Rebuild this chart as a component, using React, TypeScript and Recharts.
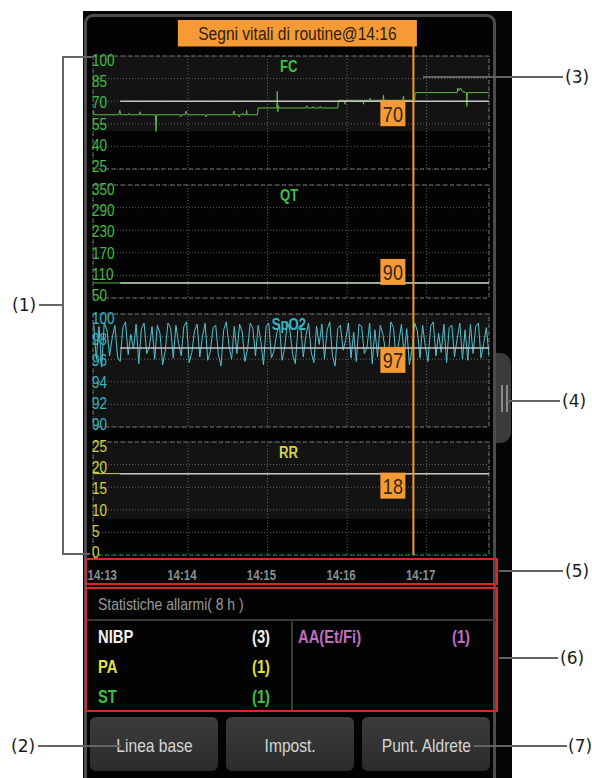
import React from "react";
import {
  CartesianGrid,
  Line,
  LineChart,
  ReferenceArea,
  ReferenceDot,
  XAxis,
  YAxis,
} from "recharts";

// no condensed font installed: squeeze Liberation Sans horizontally
const SANS = '"Liberation Sans", Arial, sans-serif';
const SQ = 0.82;
const NOTE_FONT = '"DejaVu Sans", "Noto Sans", sans-serif';

// time is in seconds after 14:13:00
const T_MIN = -11.5;
const T_MAX = 287;
const CURSOR_T = 230;
const BASE_START = 9;
const cursorTitle = "Segni vitali di routine@14:16";

const gridTimes = [60, 120, 180, 240];
const timeTicks = [0, 60, 120, 180, 240];
const timeLabels = ["14:13", "14:14", "14:15", "14:16", "14:17"];

const fcTicks = [100, 85, 70, 55, 40, 25];
const qtTicks = [350, 290, 230, 170, 110, 50];
const spo2Ticks = [100, 98, 96, 94, 92, 90];
const rrTicks = [25, 20, 15, 10, 5, 0];

// [time, bpm]
const fcTrend: [number, number][] = [
  [-11.5, 64], [-10.5, 61], [8, 61], [8.7, 64], [9.4, 61], [15, 61], [15.5, 62],
  [16, 61], [23.5, 61], [24, 63], [24.5, 61], [35.5, 61], [36, 50], [36.5, 61],
  [54, 61], [54.5, 59.5], [55, 61], [58, 61], [58.5, 63.5], [59.5, 61.5], [60, 61],
  [73, 61], [73.6, 59.5], [74.2, 61], [94, 61], [94.7, 63.5], [95.3, 61], [98.3, 61],
  [98.7, 59.5], [99.2, 61], [101, 61], [101.5, 62], [102, 61], [104, 61], [104.3, 64],
  [104.7, 61], [112.5, 61], [113, 65.5], [127, 65.5], [127.4, 76.5], [127.8, 63],
  [128.2, 67], [128.6, 65.5], [149, 65.5], [149.6, 67], [150.2, 65.5], [154, 65.5],
  [154.5, 66.5], [155, 65.5], [159.3, 65.5], [159.8, 66.5], [160.3, 65.5], [173, 65.5],
  [173.5, 70.6], [178, 70.6], [178.5, 68], [179, 70.6], [192, 70.6], [192.4, 68],
  [192.8, 70.6], [197, 70.6], [197.4, 72], [197.8, 70.6], [207, 70.6], [207.4, 74],
  [207.8, 70.6], [222, 70.6], [222.5, 73.5], [223, 70.6], [231, 70.6], [231.3, 75.7],
  [263, 75.7], [263.5, 78.8], [264.5, 77], [265.5, 78.8], [267, 76.5], [270, 75.7],
  [270.3, 66.6], [270.7, 75.7], [287, 75.7],
];

// SpO2 samples every 2 s from -11 s
const SPO2_START = -11;
const SPO2_STEP = 2;
const spo2Values = [
  99.1, 96.0, 98.9, 95.3, 99.2, 98.6, 96.3, 97.9, 99.0, 96.2, 95.8, 98.8, 99.3, 96.4, 98.2, 96.9, 99.1, 95.6, 98.7, 99.2,
  96.5, 97.1, 98.9, 96.0, 99.0, 98.3, 95.5, 96.8, 99.2, 98.8, 96.1, 99.0, 97.4, 96.3, 98.9, 99.3, 95.7, 96.6, 98.5, 99.1,
  96.2, 98.0, 99.2, 95.9, 96.7, 98.8, 99.0, 96.4, 95.4, 98.6, 99.3, 97.2, 96.0, 98.9, 96.5, 99.1, 98.4, 95.8, 96.9, 99.2,
  98.7, 96.3, 99.0, 97.6, 95.5, 98.9, 99.2, 96.1, 96.8, 98.3, 99.1, 95.9, 97.0, 99.3, 98.5, 96.4, 95.6, 98.8, 99.0, 96.2,
  98.1, 99.2, 96.6, 95.7, 98.9, 97.3, 99.1, 96.0, 98.6, 99.3, 96.3, 95.4, 98.7, 99.0, 96.8, 97.7, 99.2, 96.1, 98.4, 95.8,
  99.1, 98.9, 96.5, 97.0, 99.2, 95.6, 98.6, 96.2, 99.0, 98.2, 96.7, 95.9, 99.3, 98.8, 96.0, 97.5, 99.1, 96.4, 98.7, 95.5,
  96.9, 99.2, 98.5, 96.1, 99.0, 97.1, 95.8, 98.9, 99.3, 96.3, 98.3, 96.6, 99.1, 95.7, 98.8, 99.0, 96.2, 97.8, 99.2, 96.0,
  98.6, 95.9, 99.1, 96.5, 98.9, 99.2, 96.1, 97.4, 98.8, 96.3,
];

const qtTrend: [number, number][] = [[-11.5, 90], [287, 90]];
const rrTrend: [number, number][] = [[-11.5, 18], [287, 18]];

const readouts = { fc: 70, qt: 90, spo2: 97, rr: 18 };

const alarmLeft = [
  { name: "NIBP", count: 3, color: "#f2f2f2" },
  { name: "PA", count: 1, color: "#e2df3a" },
  { name: "ST", count: 1, color: "#3fbf3f" },
];
const alarmRight = [{ name: "AA(Et/Fi)", count: 1, color: "#c06cc0" }];
const buttons = ["Linea base", "Impost.", "Punt. Aldrete"];

type Pt = { t: number; v: number };
const toPts = (arr: [number, number][]): Pt[] => arr.map(([t, v]) => ({ t, v }));
const spo2Trend: Pt[] = spo2Values.map((v, i) => ({ t: SPO2_START + i * SPO2_STEP, v }));
const cursorLine: Pt[] = [
  { t: CURSOR_T, v: 0 },
  { t: CURSOR_T, v: 1 },
];

const CHART_LEFT = 84;
const CHART_W = 410;
const MARGIN_L = 9;
const MARGIN_R = 5;
const PLOT_H = 113;
const PAD = 6;

// narrow svg text
function SText(props: {
  x: number;
  y: number;
  anchor?: string;
  size: number;
  fill: string;
  bold?: boolean;
  children: React.ReactNode;
}) {
  return (
    <g transform={`translate(${props.x},${props.y}) scale(${SQ},1)`}>
      <text
        x={0}
        y={0}
        dy="0.36em"
        textAnchor={props.anchor || "start"}
        fill={props.fill}
        fontSize={props.size}
        fontWeight={props.bold ? 700 : 400}
        fontFamily={SANS}
      >
        {props.children}
      </text>
    </g>
  );
}

// narrow html text
function Cond({ children, origin }: { children: React.ReactNode; origin: string }) {
  return (
    <span
      style={{
        display: "inline-block",
        whiteSpace: "nowrap",
        transform: `scaleX(${SQ})`,
        transformOrigin: origin,
      }}
    >
      {children}
    </span>
  );
}

const YTick = (props: any) => {
  const { x, y, payload, index, color } = props;
  return (
    <SText x={x - 1} y={y + 4 - index * 1.4} size={16.5} fill={color}>
      {payload.value}
    </SText>
  );
};

const TimeTick = (props: any) => {
  const { x, y, index } = props;
  return (
    <SText x={x - 6} y={y + 20} anchor="middle" size={14} fill="#8c8c8c" bold>
      {timeLabels[index]}
    </SText>
  );
};

const ValueBox = ({ cx, cy, value, above }: any) => {
  const top = above ? cy - 24 : cy - 1;
  return (
    <g>
      <rect x={cx - 33} y={top} width={25} height={26} fill="#f59a34" />
      <SText x={cx - 20.5} y={top + 13.5} anchor="middle" size={22} fill="#33281a">
        {value}
      </SText>
    </g>
  );
};

const TitleBox = ({ cx, cy }: any) => {
  const right = cx + 3.5;
  const w = 239;
  return (
    <g>
      <rect x={right - w} y={cy} width={w} height={26.5} fill="#f59a34" />
      <SText x={right - w / 2} y={cy + 13.5} anchor="middle" size={19} fill="#2b2117">
        {cursorTitle}
      </SText>
    </g>
  );
};

type PanelProps = {
  top: number;
  data: Pt[];
  domain: [number, number];
  ticks: number[];
  color: string;
  lineColor: string;
  title: string;
  readout: number;
  shade?: [number, number];
  above?: boolean;
  timeAxis?: boolean;
};

function Panel(p: PanelProps) {
  const axisH = 32;
  const base: Pt[] = [
    { t: BASE_START, v: p.readout },
    { t: T_MAX, v: p.readout },
  ];
  return (
    <>
      <LineChart
        width={CHART_W}
        height={PAD + PLOT_H + (p.timeAxis ? axisH : PAD)}
        margin={{ top: PAD, right: MARGIN_R, left: MARGIN_L - 1, bottom: p.timeAxis ? 0 : PAD }}
        style={{ position: "absolute", left: CHART_LEFT, top: p.top - PAD }}
      >
        {p.timeAxis && (
          <XAxis
            xAxisId="time"
            type="number"
            dataKey="t"
            domain={[T_MIN, T_MAX]}
            ticks={timeTicks}
            interval={0}
            allowDataOverflow
            height={axisH}
            axisLine={false}
            tickLine={false}
            tickSize={0}
            tickMargin={0}
            tick={<TimeTick />}
          />
        )}
        <XAxis
          type="number"
          dataKey="t"
          domain={[T_MIN, T_MAX]}
          ticks={gridTimes}
          allowDataOverflow
          height={0}
          hide
        />
        <YAxis
          type="number"
          domain={p.domain}
          ticks={p.ticks}
          interval={0}
          width={1}
          allowDataOverflow
          axisLine={false}
          tickLine={false}
          tickSize={0}
          tickMargin={0}
          tick={<YTick color={p.color} />}
        />
        <CartesianGrid stroke="#5c5c5c" strokeDasharray="1 2" />
        {p.shade && (
          <ReferenceArea
            y1={p.shade[0]}
            y2={p.shade[1]}
            fill="#ffffff"
            fillOpacity={0.065}
            stroke="none"
          />
        )}
        <ReferenceArea
          x1={T_MIN}
          x2={T_MAX}
          y1={p.domain[0]}
          y2={p.domain[1]}
          fill="none"
          stroke="#6e6e6e"
          strokeDasharray="4 3"
        />
        <Line
          data={p.data}
          dataKey="v"
          type="linear"
          stroke={p.lineColor}
          strokeWidth={1}
          dot={false}
          isAnimationActive={false}
        />
        <Line
          data={base}
          dataKey="v"
          type="linear"
          stroke="#c4c4c4"
          strokeWidth={1.5}
          dot={false}
          isAnimationActive={false}
        />
        <ReferenceDot
          x={CURSOR_T}
          y={p.readout}
          shape={(s: any) => (
            <ValueBox cx={s.cx} cy={s.cy} value={p.readout} above={p.above} />
          )}
        />
      </LineChart>
      <div
        style={{
          position: "absolute",
          left: 249,
          width: 80,
          top: p.top + 1,
          height: 20,
          lineHeight: "20px",
          textAlign: "center",
          color: p.color,
          fontFamily: SANS,
          fontWeight: 700,
          fontSize: 16,
        }}
      >
        <Cond origin="center">{p.title}</Cond>
      </div>
    </>
  );
}

const abs = (s: React.CSSProperties): React.CSSProperties => ({ position: "absolute", ...s });

function Note({ label, x, y }: { label: string; x: number; y: number }) {
  return (
    <div
      style={abs({
        left: x,
        top: y - 11,
        height: 22,
        lineHeight: "22px",
        fontFamily: NOTE_FONT,
        fontSize: 17,
        color: "#1b1b1b",
      })}
    >
      {label}
    </div>
  );
}

const rowText = (color: string): React.CSSProperties => ({
  lineHeight: "22px",
  color,
  fontFamily: SANS,
  fontWeight: 700,
  fontSize: 18,
});

export default function App() {
  return (
    <div
      style={abs({
        left: 0,
        top: 0,
        width: 592,
        height: 778,
        overflow: "hidden",
        background: "#ffffff",
      })}
    >
      <div style={abs({ left: 83, top: 11, width: 429, height: 767, background: "#050505" })} />
      <div
        style={abs({
          left: 84,
          top: 14,
          width: 412,
          height: 800,
          boxSizing: "border-box",
          border: "3px solid #4c4c4c",
          borderRadius: 9,
          background: "#030303",
        })}
      />
      <div
        style={abs({
          left: 496,
          top: 353,
          width: 15,
          height: 90,
          background: "#3b3b3b",
          borderRadius: "0 11px 11px 0",
        })}
      />
      <div style={abs({ left: 501, top: 385, width: 2, height: 27, background: "#8a8a8a" })} />
      <div style={abs({ left: 506, top: 385, width: 2, height: 27, background: "#8a8a8a" })} />

      <div
        style={abs({
          left: 85,
          top: 558,
          width: 413,
          height: 27,
          boxSizing: "border-box",
          border: "2px solid #e3222b",
        })}
      />

      <Panel
        top={56}
        data={toPts(fcTrend)}
        domain={[25, 100]}
        ticks={fcTicks}
        color="#3fbf3f"
        lineColor="#62b84a"
        title="FC"
        readout={readouts.fc}
        shade={[50, 100]}
      />
      <Panel
        top={185}
        data={toPts(qtTrend)}
        domain={[50, 350]}
        ticks={qtTicks}
        color="#3fbf3f"
        lineColor="#3fbf3f"
        title="QT"
        readout={readouts.qt}
        above
      />
      <Panel
        top={314}
        data={spo2Trend}
        domain={[90, 100]}
        ticks={spo2Ticks}
        color="#35b5c4"
        lineColor="#4fc3d2"
        title="SpO2"
        readout={readouts.spo2}
        shade={[90, 100]}
      />
      <Panel
        top={442}
        data={toPts(rrTrend)}
        domain={[0, 25]}
        ticks={rrTicks}
        color="#d6d43a"
        lineColor="#d6d43a"
        title="RR"
        readout={readouts.rr}
        shade={[8, 25]}
        timeAxis
      />

      {/* time cursor over all panels */}
      <LineChart
        width={CHART_W}
        height={535}
        margin={{ top: 0, right: MARGIN_R, left: MARGIN_L, bottom: 0 }}
        style={{ position: "absolute", left: CHART_LEFT, top: 20, pointerEvents: "none" }}
      >
        <XAxis type="number" dataKey="t" domain={[T_MIN, T_MAX]} allowDataOverflow height={0} hide />
        <YAxis type="number" domain={[0, 1]} width={0} hide />
        <Line
          data={cursorLine}
          dataKey="v"
          type="linear"
          stroke="#f5972c"
          strokeWidth={2}
          dot={false}
          isAnimationActive={false}
        />
        <ReferenceDot x={CURSOR_T} y={1} shape={(s: any) => <TitleBox cx={s.cx} cy={s.cy} />} />
      </LineChart>

      {/* alarm statistics */}
      <div
        style={abs({
          left: 85,
          top: 587,
          width: 413,
          height: 125,
          boxSizing: "border-box",
          border: "2px solid #e3222b",
        })}
      />
      <div
        style={abs({
          left: 98,
          top: 594,
          height: 22,
          lineHeight: "22px",
          color: "#9a9a9a",
          fontFamily: SANS,
          fontSize: 17,
        })}
      >
        <Cond origin="left">Statistiche allarmi( 8 h )</Cond>
      </div>
      <div style={abs({ left: 87, top: 619, width: 409, height: 2, background: "#3a3a3a" })} />
      <div style={abs({ left: 291, top: 621, width: 2, height: 89, background: "#3a3a3a" })} />
      {alarmLeft.map((a, i) => (
        <React.Fragment key={a.name}>
          <div style={abs({ left: 98, top: 626 + i * 30, ...rowText(a.color) })}>
            <Cond origin="left">{a.name}</Cond>
          </div>
          <div
            style={abs({ left: 200, width: 70, textAlign: "right", top: 626 + i * 30, ...rowText(a.color) })}
          >
            <Cond origin="right">({a.count})</Cond>
          </div>
        </React.Fragment>
      ))}
      {alarmRight.map((a, i) => (
        <React.Fragment key={a.name}>
          <div style={abs({ left: 298, top: 626 + i * 30, ...rowText(a.color) })}>
            <Cond origin="left">{a.name}</Cond>
          </div>
          <div
            style={abs({ left: 400, width: 70, textAlign: "right", top: 626 + i * 30, ...rowText(a.color) })}
          >
            <Cond origin="right">({a.count})</Cond>
          </div>
        </React.Fragment>
      ))}

      {buttons.map((b, i) => (
        <div
          key={b}
          style={abs({
            left: 90 + i * 136,
            top: 717,
            width: 128,
            height: 54,
            borderRadius: 6,
            background: "linear-gradient(#3c3c3c, #2b2b2b)",
            color: "#d6d6d6",
            fontFamily: SANS,
            fontSize: 19,
            lineHeight: "58px",
            textAlign: "center",
          })}
        >
          <Cond origin="center">{b}</Cond>
        </div>
      ))}

      {/* callouts */}
      <svg width={592} height={778} style={abs({ left: 0, top: 0 })}>
        <g stroke="#646464" strokeWidth={2} fill="none">
          <polyline points="92,57 63,57 63,554 90,554" />
          <line x1={39} y1={305} x2={63} y2={305} />
          <line x1={38} y1={746} x2={121} y2={746} />
          <line x1={423} y1={77} x2={563} y2={77} />
          <line x1={507} y1={401} x2={560} y2={401} />
          <line x1={499} y1={571} x2={563} y2={571} />
          <line x1={499} y1={658} x2={558} y2={658} />
          <line x1={474} y1={746} x2={567} y2={746} />
        </g>
      </svg>
      <Note label="(1)" x={12} y={305} />
      <Note label="(2)" x={11} y={746} />
      <Note label="(3)" x={565} y={77} />
      <Note label="(4)" x={562} y={401} />
      <Note label="(5)" x={565} y={571} />
      <Note label="(6)" x={560} y={658} />
      <Note label="(7)" x={568} y={746} />
    </div>
  );
}
